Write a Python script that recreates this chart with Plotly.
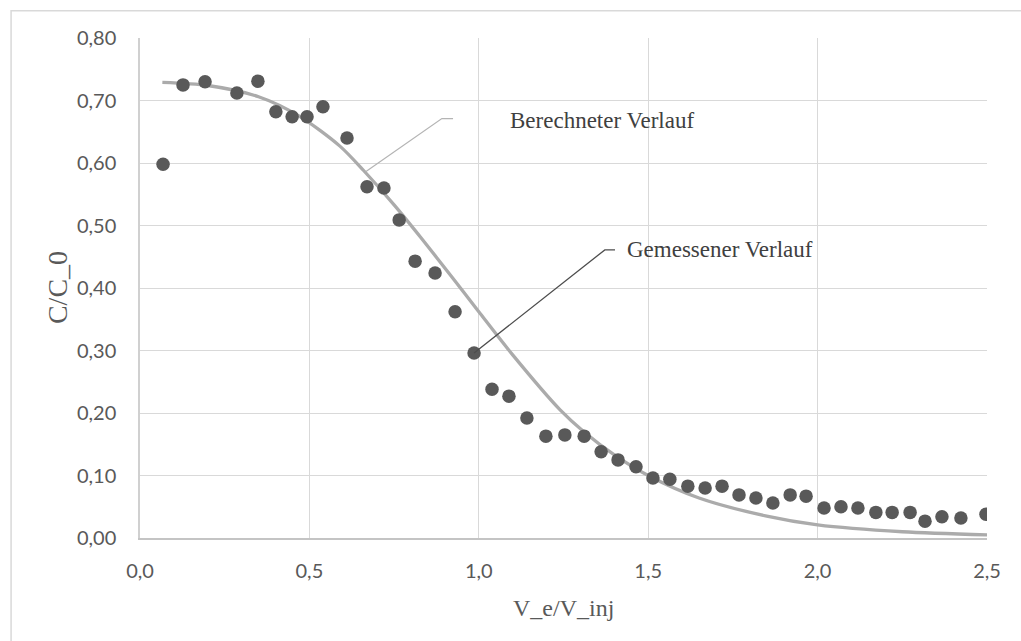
import plotly.graph_objects as go

# Measured data (Gemessener Verlauf)
meas_x = [0.068, 0.127, 0.192, 0.286, 0.348, 0.401, 0.449, 0.493, 0.540, 0.611,
          0.670, 0.720, 0.765, 0.812, 0.871, 0.930, 0.986, 1.039, 1.089, 1.142,
          1.198, 1.254, 1.311, 1.361, 1.411, 1.464, 1.514, 1.564, 1.617, 1.668,
          1.718, 1.768, 1.818, 1.868, 1.919, 1.966, 2.019, 2.069, 2.119, 2.172,
          2.220, 2.273, 2.317, 2.367, 2.423, 2.497]
meas_y = [0.598, 0.725, 0.730, 0.712, 0.731, 0.682, 0.674, 0.674, 0.690, 0.640,
          0.562, 0.560, 0.509, 0.443, 0.424, 0.362, 0.296, 0.238, 0.227, 0.192,
          0.163, 0.165, 0.163, 0.138, 0.125, 0.114, 0.096, 0.094, 0.083, 0.080,
          0.083, 0.069, 0.064, 0.056, 0.069, 0.067, 0.048, 0.050, 0.048, 0.041,
          0.041, 0.041, 0.027, 0.034, 0.032, 0.038]

# Calculated curve (Berechneter Verlauf)
calc_x = [0.066, 0.20, 0.35, 0.47, 0.59, 0.66, 0.75, 0.83, 0.92, 1.00,
          1.10, 1.24, 1.31, 1.40, 1.50, 1.65, 1.85, 2.00, 2.25, 2.50]
calc_y = [0.729, 0.724, 0.706, 0.675, 0.627, 0.588, 0.533, 0.480, 0.418, 0.362,
          0.293, 0.205, 0.170, 0.133, 0.100, 0.064, 0.035, 0.021, 0.010, 0.005]

# Tick values / labels
x_ticks = [0.0, 0.5, 1.0, 1.5, 2.0, 2.5]
y_ticks = [0.0, 0.1, 0.2, 0.3, 0.4, 0.5, 0.6, 0.7, 0.8]

# Callout labels and leader lines (data coordinates)
label_texts = ["Berechneter Verlauf", "Gemessener Verlauf"]
label_x = [1.086, 1.432]
label_y = [0.668, 0.461]
leader_calc_x = [0.666, 0.891, 0.924]
leader_calc_y = [0.586, 0.671, 0.671]
leader_meas_x = [0.986, 1.372, 1.402]
leader_meas_y = [0.296, 0.461, 0.461]

fig = go.Figure()

fig.add_trace(go.Scatter(
    x=calc_x, y=calc_y, mode="lines",
    line=dict(color="#ababab", width=3.3, shape="spline", smoothing=0.8),
    name="Berechneter Verlauf", hoverinfo="skip"))

fig.add_trace(go.Scatter(
    x=meas_x, y=meas_y, mode="markers",
    marker=dict(color="#595959", size=13.5, line=dict(width=0)),
    name="Gemessener Verlauf"))

def path_from(xs, ys):
    return "M " + " L ".join(f"{a},{b}" for a, b in zip(xs, ys))

fig.add_shape(type="path", xref="x", yref="y", path=path_from(leader_calc_x, leader_calc_y),
              line=dict(color="#b4b4b4", width=1.2))
fig.add_shape(type="path", xref="x", yref="y", path=path_from(leader_meas_x, leader_meas_y),
              line=dict(color="#4d4d4d", width=1.3))

for t, lx, ly in zip(label_texts, label_x, label_y):
    fig.add_annotation(x=lx, y=ly, xref="x", yref="y", text=t, showarrow=False,
                       xanchor="left", yanchor="middle",
                       font=dict(family="Liberation Serif", size=23, color="#404040"))

# Axis titles
fig.add_annotation(x=0.5, y=-0.1394, xref="paper", yref="paper", text="V_e/V_inj",
                   showarrow=False, xanchor="center", yanchor="middle",
                   font=dict(family="Liberation Serif", size=24, color="#595959"))
fig.add_annotation(x=-0.0979, y=0.5, xref="paper", yref="paper", text="C/C_0",
                   showarrow=False, xanchor="center", yanchor="middle", textangle=-90,
                   font=dict(family="Liberation Serif", size=28, color="#595959"))

# Outer chart border
fig.add_shape(type="rect", xref="paper", yref="paper", x0=-0.1522, y0=-0.3, x1=1.2, y1=1.0546,
              line=dict(color="#d9d9d9", width=1.5), layer="below")

fig.update_layout(
    width=1021, height=641,
    margin=dict(l=140, r=33.5, t=38, b=103),
    paper_bgcolor="white", plot_bgcolor="white",
    showlegend=False,
    separators=",.",
    font=dict(family="Lato", color="#595959"),
)

fig.update_xaxes(range=[0, 2.5], tickvals=x_ticks, tickformat=".1f",
                 showgrid=True, gridcolor="#d9d9d9", gridwidth=1.3,
                 showline=True, linecolor="#c4c4c4", linewidth=2,
                 zeroline=False, ticks="outside", ticklen=14, tickcolor="rgba(0,0,0,0)",
                 tickfont=dict(family="Lato", size=20, color="#595959"))
fig.update_yaxes(range=[0, 0.8], tickvals=y_ticks, tickformat=".2f",
                 showgrid=True, gridcolor="#d9d9d9", gridwidth=1.3,
                 showline=True, linecolor="#d0d0d0", linewidth=1.5,
                 zeroline=False, ticks="outside", ticklen=18, tickcolor="rgba(0,0,0,0)",
                 tickfont=dict(family="Lato", size=20, color="#595959"))

fig.write_html("out.html")
